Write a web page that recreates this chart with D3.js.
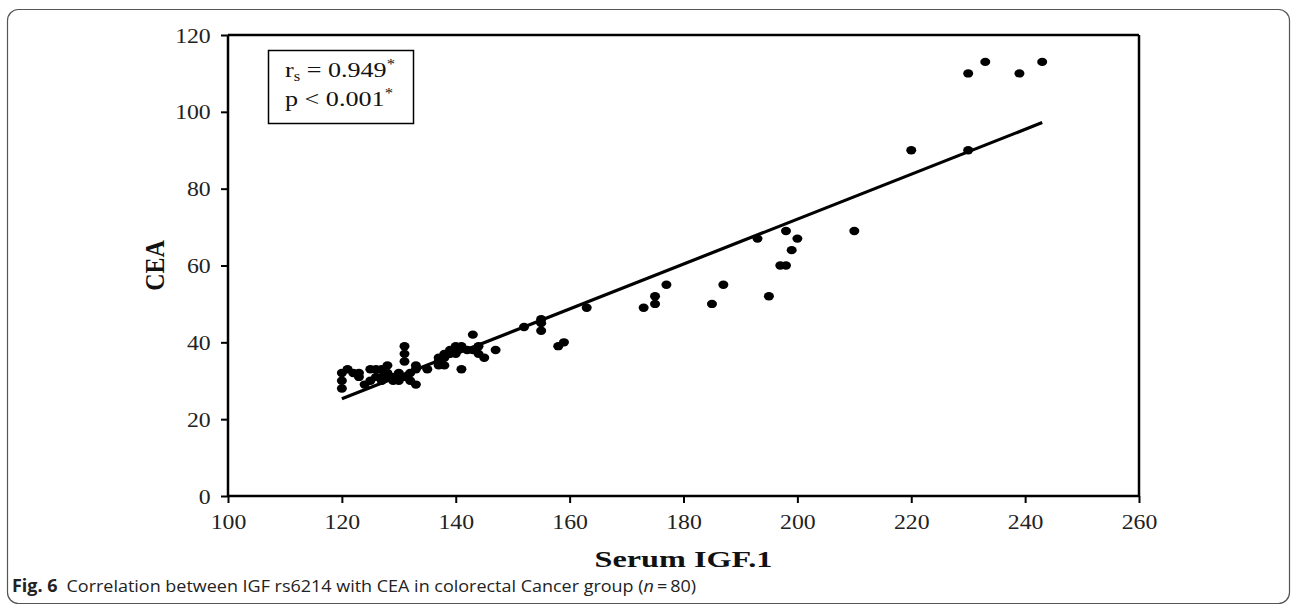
<!DOCTYPE html>
<html><head><meta charset="utf-8">
<script src="https://cdn.jsdelivr.net/npm/d3@7"></script>
<style>
html,body{margin:0;padding:0;background:#fff;}
svg{display:block;}
</style></head>
<body>
<svg id="chart" width="1292" height="607"></svg>
<script>
// Serum IGF.1 (x) values
const igf = [
  120,120,120,121,122,123,123,124,125,125,126,126,127,127,127,128,128,128,129,129,
  130,130,130,131,131,131,131,132,132,133,133,133,135,137,137,137,138,138,138,139,
  139,140,140,140,141,141,142,143,143,144,144,145,
  147,152,155,155,155,158,159,163,173,175,175,177,185,187,193,195,197,198,198,199,
  200,210,220,230,230,233,239,243
];
// CEA (y) values
const cea = [
  32,30,28,33,32,31,32,29,33,30,33,31,33,31,30,34,32,31,30,31,
  32,30,31,39,37,35,31,30,32,29,34,33,33,34,35,36,34,36,37,37,
  38,39,37,38,39,33,38,42,38,39,37,36,
  38,44,46,45,43,39,40,49,49,50,52,55,50,55,67,52,60,60,69,64,
  67,69,90,90,110,113,110,113
];
// fitted regression line end points
const fitX = [120, 243];
const fitY = [25.3, 97.2];
const xTicks = [100,120,140,160,180,200,220,240,260];
const yTicks = [0,20,40,60,80,100,120];
const statLines = [
  {main:"r", sub:"s", rest:" = 0.949", sup:"*"},
  {main:"p < 0.001", sub:"", rest:"", sup:"*"}
];

const svg = d3.select("#chart");
const L = 228, R = 1139, T = 35, B = 496;
const x = d3.scaleLinear().domain([100,260]).range([L,R]);
const y = d3.scaleLinear().domain([0,120]).range([B,T]);
const serif = "'Liberation Serif','Times New Roman',serif";
const SX = 1.08;

// outer figure frame
svg.append("rect").attr("x",7.5).attr("y",9.5).attr("width",1282).attr("height",594)
  .attr("rx",11).attr("fill","none").attr("stroke","#555").attr("stroke-width",1.2);

// plot frame top & right
svg.append("line").attr("x1",L).attr("x2",R).attr("y1",T).attr("y2",T).attr("stroke","#000").attr("stroke-width",2.5);
svg.append("line").attr("x1",R).attr("x2",R).attr("y1",T).attr("y2",B).attr("stroke","#000").attr("stroke-width",2.5);

// axes
const xAxis = svg.append("g").attr("transform",`translate(0,${B})`)
  .call(d3.axisBottom(x).tickValues(xTicks).tickSize(7).tickPadding(10).tickFormat(d3.format("d")));
const yAxis = svg.append("g").attr("transform",`translate(${L},0)`)
  .call(d3.axisLeft(y).tickValues(yTicks).tickSize(7).tickPadding(9).tickFormat(d3.format("d")));
[xAxis,yAxis].forEach(g=>{
  g.select(".domain").attr("stroke","#000").attr("stroke-width",2.5);
  g.selectAll(".tick line").attr("stroke","#000").attr("stroke-width",2);
  g.selectAll(".tick text").attr("font-family",serif).attr("font-size",22).attr("fill","#222")
    .attr("transform",`scale(${SX},1)`);
});
xAxis.select(".domain").attr("d",`M${L},0H${R}`);
yAxis.select(".domain").attr("d",`M0,${T}V${B}`);

// axis titles
svg.append("text").attr("x",(L+R)/2).attr("y",567).attr("text-anchor","middle")
  .attr("font-family",serif).attr("font-weight","bold").attr("font-size",24).attr("fill","#111")
  .attr("textLength",178).attr("lengthAdjust","spacingAndGlyphs")
  .text("Serum IGF.1");
svg.append("text").attr("transform",`translate(164,${(T+B)/2}) rotate(-90) scale(1,1.12)`).attr("text-anchor","middle")
  .attr("font-family",serif).attr("font-weight","bold").attr("font-size",24).attr("fill","#111")
  .text("CEA");

// regression line
svg.append("line").attr("x1",x(fitX[0])).attr("y1",y(fitY[0])).attr("x2",x(fitX[1])).attr("y2",y(fitY[1]))
  .attr("stroke","#000").attr("stroke-width",3.2);

// points
svg.append("g").selectAll("ellipse").data(igf.map((v,i)=>[v,cea[i]])).join("ellipse")
  .attr("cx",d=>x(d[0])).attr("cy",d=>y(d[1])).attr("rx",5).attr("ry",4.2).attr("fill","#000");

// stats box
svg.append("rect").attr("x",268.5).attr("y",50.5).attr("width",145).attr("height",73)
  .attr("fill","#fff").attr("stroke","#000").attr("stroke-width",1.5);
const st = svg.append("g").attr("font-family",serif).attr("font-size",22).attr("fill","#111");
const statWidths = [110, 108];
statLines.forEach((s,i)=>{
  const t = st.append("text").attr("x",285).attr("y",77+i*29)
    .attr("textLength",statWidths[i]).attr("lengthAdjust","spacingAndGlyphs");
  t.append("tspan").text(s.main);
  if (s.sub) t.append("tspan").attr("font-size",14).attr("dy",4).text(s.sub);
  if (s.rest) t.append("tspan").attr("dy",s.sub?-4:0).text(s.rest);
  t.append("tspan").attr("font-size",14).attr("dy",-8).text(s.sup);
});

// caption
const cap = svg.append("text").attr("x",12).attr("y",592)
  .attr("font-family","'Open Sans','Noto Sans',sans-serif").attr("font-size",17).attr("fill","#222")
  .attr("textLength",684).attr("lengthAdjust","spacingAndGlyphs");
cap.append("tspan").attr("font-weight","bold").text("Fig. 6");
cap.append("tspan").text("\u2002Correlation between IGF rs6214 with CEA in colorectal Cancer group (");
cap.append("tspan").attr("font-style","italic").text("n");
cap.append("tspan").text("\u2009=\u200980)");
</script>
</body></html>
